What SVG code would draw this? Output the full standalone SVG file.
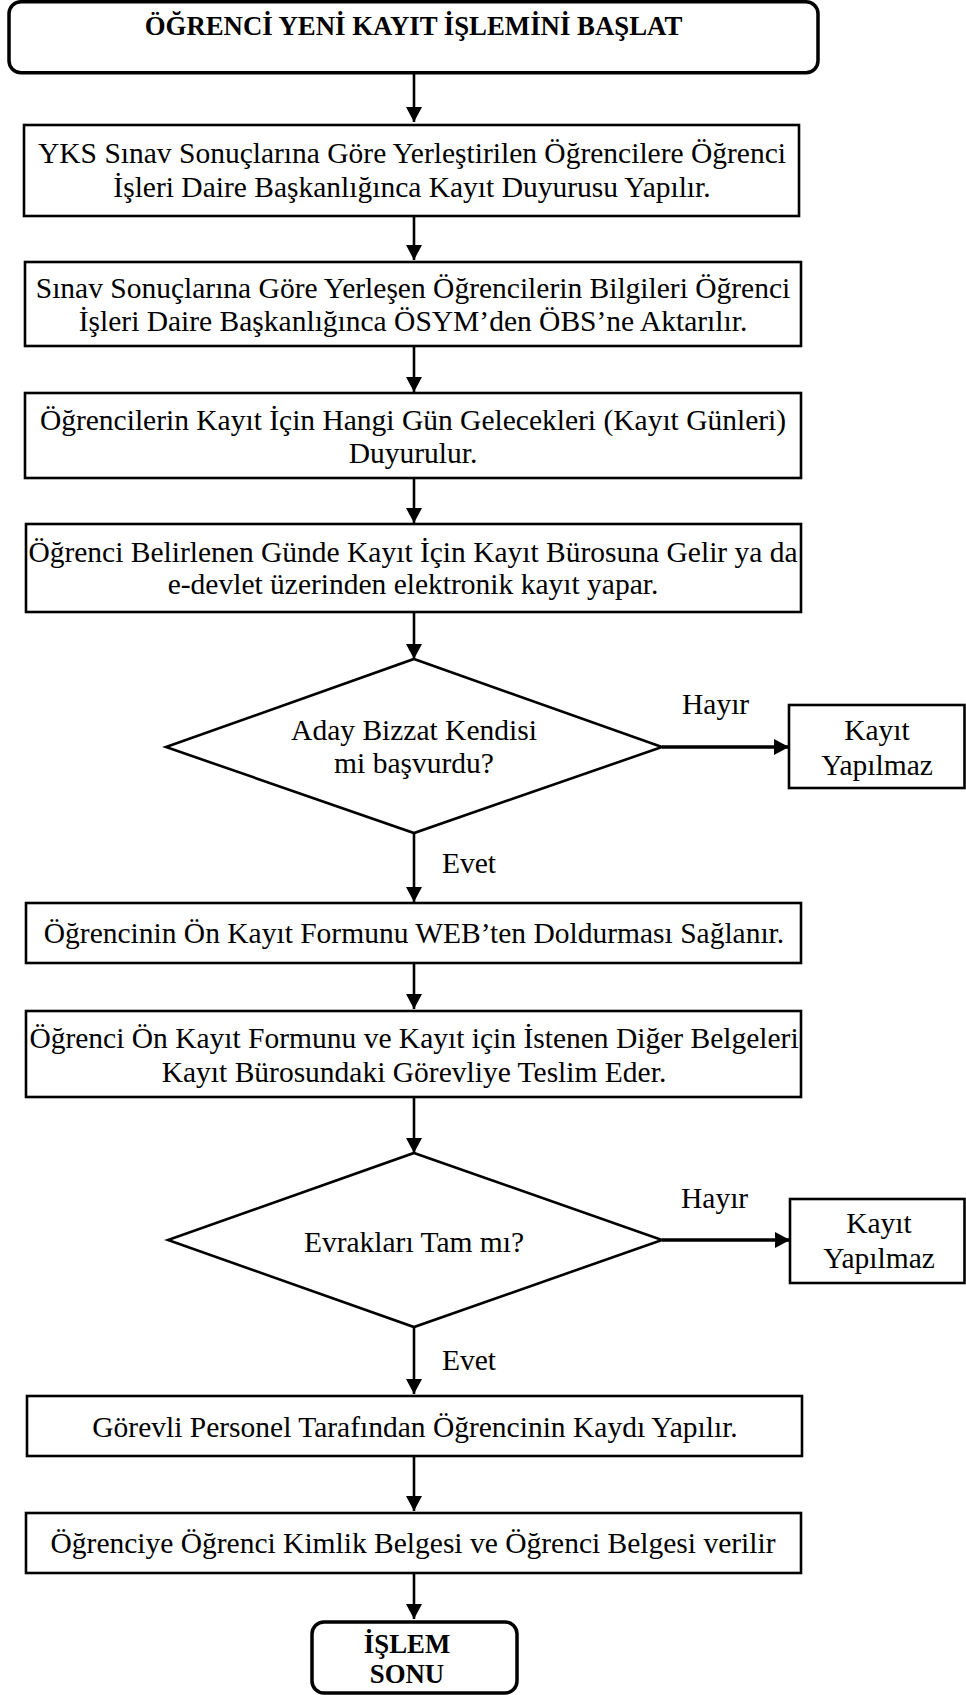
<svg xmlns="http://www.w3.org/2000/svg" width="966" height="1695" viewBox="0 0 966 1695">
  <style>
    .bg { fill: #ffffff; }
    .term { fill: #ffffff; stroke: #000000; stroke-width: 3.5; }
    .proc { fill: #ffffff; stroke: #000000; stroke-width: 2.6; }
    .dec { fill: #ffffff; stroke: #000000; stroke-width: 2.6; stroke-linejoin: miter; }
    .edge { fill: none; stroke: #000000; stroke-width: 2.6; }
    .edge-h { fill: none; stroke: #000000; stroke-width: 3.4; }
    .t { font-family: "Liberation Serif", "DejaVu Serif", serif; font-weight: 400; font-size: 29.5px; fill: #000000; text-anchor: middle; }
    .tb { font-family: "Liberation Serif", "DejaVu Serif", serif; font-size: 26.8px; font-weight: 700; fill: #000000; text-anchor: middle; }
    .lbl { font-family: "Liberation Serif", "DejaVu Serif", serif; font-weight: 400; font-size: 29.5px; fill: #000000; }
  </style>
  <defs>
    <marker id="arrow" markerUnits="userSpaceOnUse" markerWidth="16" markerHeight="16" viewBox="0 0 16 16" refX="15" refY="8" orient="auto">
      <path d="M0,0 L15,8 L0,16 Z" fill="#000000"/>
    </marker>
  </defs>

  <rect class="bg" x="0" y="0" width="966" height="1695"/>

  <!-- connectors -->
  <g id="connectors">
    <line class="edge" x1="414" y1="73" x2="414" y2="122" marker-end="url(#arrow)"/>
    <line class="edge" x1="414" y1="216" x2="414" y2="260" marker-end="url(#arrow)"/>
    <line class="edge" x1="414" y1="346" x2="414" y2="392" marker-end="url(#arrow)"/>
    <line class="edge" x1="414" y1="478" x2="414" y2="523" marker-end="url(#arrow)"/>
    <line class="edge" x1="414" y1="612" x2="414" y2="659" marker-end="url(#arrow)"/>
    <line class="edge-h" x1="662" y1="747" x2="789" y2="747" marker-end="url(#arrow)"/>
    <line class="edge" x1="414" y1="833" x2="414" y2="902" marker-end="url(#arrow)"/>
    <line class="edge" x1="414" y1="963" x2="414" y2="1009" marker-end="url(#arrow)"/>
    <line class="edge" x1="414" y1="1097" x2="414" y2="1153" marker-end="url(#arrow)"/>
    <line class="edge-h" x1="662" y1="1240" x2="790" y2="1240" marker-end="url(#arrow)"/>
    <line class="edge" x1="414" y1="1327" x2="414" y2="1394" marker-end="url(#arrow)"/>
    <line class="edge" x1="414" y1="1456" x2="414" y2="1511" marker-end="url(#arrow)"/>
    <line class="edge" x1="414" y1="1573" x2="414" y2="1619" marker-end="url(#arrow)"/>
    <text class="lbl" x="682" y="714">Hayır</text>
    <text class="lbl" x="442" y="873">Evet</text>
    <text class="lbl" x="681" y="1208">Hayır</text>
    <text class="lbl" x="442" y="1370">Evet</text>
  </g>

  <g id="start">
    <rect class="term" x="9" y="1.8" width="809" height="71" rx="12" ry="12"/>
    <text class="tb" x="413.5" y="35">ÖĞRENCİ YENİ KAYIT İŞLEMİNİ BAŞLAT</text>
  </g>

  <g id="announce">
    <rect class="proc" x="24" y="125" width="775" height="91"/>
    <text class="t" x="412" y="163">YKS Sınav Sonuçlarına Göre Yerleştirilen Öğrencilere Öğrenci</text>
    <text class="t" x="412" y="197">İşleri Daire Başkanlığınca Kayıt Duyurusu Yapılır.</text>
  </g>

  <g id="transfer">
    <rect class="proc" x="25" y="262" width="776" height="84"/>
    <text class="t" x="413" y="298">Sınav Sonuçlarına Göre Yerleşen Öğrencilerin Bilgileri Öğrenci</text>
    <text class="t" x="413" y="331">İşleri Daire Başkanlığınca ÖSYM’den ÖBS’ne Aktarılır.</text>
  </g>

  <g id="days">
    <rect class="proc" x="25" y="393" width="776" height="85"/>
    <text class="t" x="413" y="430">Öğrencilerin Kayıt İçin Hangi Gün Gelecekleri (Kayıt Günleri)</text>
    <text class="t" x="413" y="463">Duyurulur.</text>
  </g>

  <g id="arrive">
    <rect class="proc" x="26" y="524" width="775" height="88"/>
    <text class="t" x="413" y="562">Öğrenci Belirlenen Günde Kayıt İçin Kayıt Bürosuna Gelir ya da</text>
    <text class="t" x="413" y="594">e-devlet üzerinden elektronik kayıt yapar.</text>
  </g>

  <g id="decision-self">
    <polygon class="dec" points="414,659 662,747 414,833 166,747"/>
    <text class="t" x="414" y="740">Aday Bizzat Kendisi</text>
    <text class="t" x="414" y="773">mi başvurdu?</text>
  </g>

  <g id="reject-1">
    <rect class="proc" x="789" y="705" width="175.5" height="83"/>
    <text class="t" x="877" y="740">Kayıt</text>
    <text class="t" x="877" y="775">Yapılmaz</text>
  </g>

  <g id="preform">
    <rect class="proc" x="26" y="903" width="775" height="60"/>
    <text class="t" x="414" y="943">Öğrencinin Ön Kayıt Formunu WEB’ten Doldurması Sağlanır.</text>
  </g>

  <g id="documents">
    <rect class="proc" x="26" y="1011" width="775" height="86"/>
    <text class="t" x="414" y="1048">Öğrenci Ön Kayıt Formunu ve Kayıt için İstenen Diğer Belgeleri</text>
    <text class="t" x="414" y="1082">Kayıt Bürosundaki Görevliye Teslim Eder.</text>
  </g>

  <g id="decision-docs">
    <polygon class="dec" points="414,1153 662,1240 414,1327 168,1240"/>
    <text class="t" x="414" y="1252">Evrakları Tam mı?</text>
  </g>

  <g id="reject-2">
    <rect class="proc" x="790" y="1199" width="174.5" height="84"/>
    <text class="t" x="879" y="1233">Kayıt</text>
    <text class="t" x="879" y="1268">Yapılmaz</text>
  </g>

  <g id="register">
    <rect class="proc" x="27" y="1396" width="775" height="60"/>
    <text class="t" x="415" y="1437">Görevli Personel Tarafından Öğrencinin Kaydı Yapılır.</text>
  </g>

  <g id="id-card">
    <rect class="proc" x="26" y="1513" width="775" height="60"/>
    <text class="t" x="413" y="1553">Öğrenciye Öğrenci Kimlik Belgesi ve Öğrenci Belgesi verilir</text>
  </g>

  <g id="end">
    <rect class="term" x="312" y="1622" width="205" height="71" rx="12" ry="12"/>
    <text class="tb" x="407" y="1653">İŞLEM</text>
    <text class="tb" x="407" y="1683">SONU</text>
  </g>
</svg>
